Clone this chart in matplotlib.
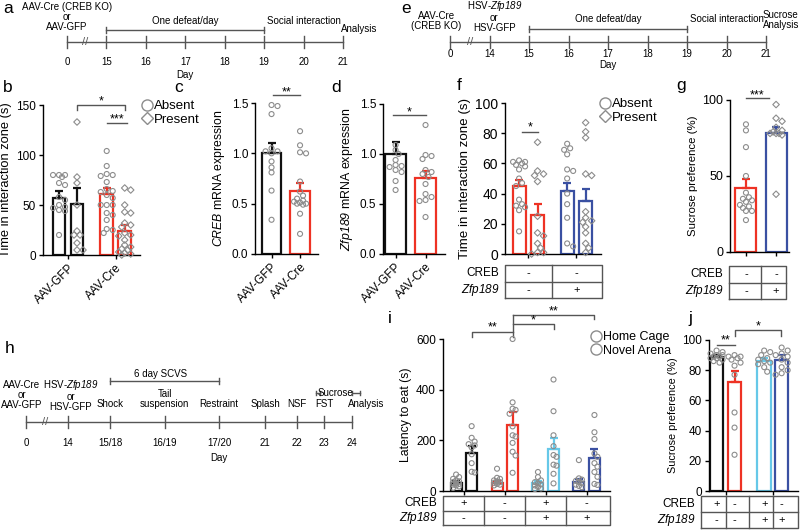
import numpy as np
import matplotlib
matplotlib.use('Agg')
import matplotlib.pyplot as plt
from matplotlib.lines import Line2D

plt.rcParams['font.family'] = ['Liberation Sans', 'DejaVu Sans']
plt.rcParams['mathtext.fontset'] = 'custom'
plt.rcParams['mathtext.rm'] = 'Liberation Sans'
# \mathbf is used as a full italic (digits included) face
plt.rcParams['mathtext.bf'] = 'Liberation Sans:italic'
plt.rcParams['axes.linewidth'] = 1.0

BLACK = '#111111'
RED = '#ee3224'
BLUE = '#3a50a2'
CYAN = '#66c8e8'
GREY = '#8c8c8c'
LINE = '#555555'
ZFP = '$\\mathbf{Zfp189}$'

# ---------------- data ----------------
a_days = ['0', '15', '16', '17', '18', '19', '20', '21']
e_days = ['0', '14', '15', '16', '17', '18', '19', '20', '21']
h_days = ['0', '14', '15/18', '16/19', '17/20', '21', '22', '23', '24']
h_pos = [0, 1, 2, 3.3, 4.6, 5.7, 6.45, 7.1, 7.75]
h_events = ['Shock', 'Tail\nsuspension', 'Restraint', 'Splash', 'NSF', 'FST']

groups = ['AAV-GFP', 'AAV-Cre']

# b: time in interaction zone, absent / present
b_means = [57, 51, 61, 24]
b_sems = [7, 16, 6, 6]
b_gfp_abs = [80, 80, 80, 78, 72, 70, 58, 55, 50, 48, 47, 45, 44, 20]
b_gfp_pres = [133, 78, 72, 50, 24, 20, 20, 12, 5, 5]
b_cre_abs = [104, 89, 81, 80, 79, 73, 66, 64, 63, 60, 57, 50, 50, 50, 42, 40, 35, 26, 25, 22]
b_cre_pres = [67, 65, 50, 43, 42, 32, 30, 28, 22, 20, 19, 15, 10, 8, 6, 5, 3, 2, 1, 0]

# c: CREB mRNA
c_means = [1.0, 0.63]
c_sems = [0.1, 0.08]
c_gfp = [1.48, 1.47, 1.39, 1.05, 1.02, 1.02, 1.0, 0.92, 0.86, 0.81, 0.63, 0.34]
c_cre = [1.22, 1.08, 1.01, 1.0, 0.72, 0.62, 0.58, 0.55, 0.53, 0.52, 0.51, 0.50, 0.50, 0.49, 0.40, 0.20]

# d: Zfp189 mRNA
d_means = [1.0, 0.76]
d_sems = [0.12, 0.07]
d_gfp = [1.09, 1.04, 1.0, 0.94, 0.89, 0.88, 0.87, 0.84, 0.82, 0.73, 0.64]
d_cre = [1.29, 0.99, 0.98, 0.95, 0.84, 0.82, 0.80, 0.77, 0.70, 0.60, 0.57, 0.54, 0.53, 0.37]

# f: time in interaction zone (HSV-GFP / HSV-Zfp189)
f_means = [45, 26, 42, 35]
f_sems = [4, 7, 5, 8]
f_gfp_abs = [62, 61, 61, 60, 59, 58, 56, 50, 47, 45, 36, 33, 32, 31, 29, 15]
f_gfp_pres = [74, 55, 53, 52, 48, 25, 14, 12, 7, 4, 1, 1, 0]
f_zfp_abs = [73, 70, 69, 66, 56, 55, 50, 40, 33, 24, 7, 5]
f_zfp_pres = [87, 81, 77, 53, 52, 28, 24, 22, 21, 18, 14, 7, 4, 1]
f_creb = ['-', '-']
f_zfp = ['-', '+']

# g: sucrose preference
g_means = [42, 78]
g_sems = [6, 4]
g_gfp = [84, 80, 69, 50, 39, 36, 35, 34, 33, 31, 30, 29, 27, 27, 21]
g_zfp = [97, 88, 86, 82, 80, 79, 78, 78, 78, 77, 38]
g_creb_row = ['-', '-']
g_zfp_row = ['-', '+']

# i: latency to eat, home cage / novel arena
i_home_means = [32, 33, 30, 36]
i_home_sems = [8, 8, 10, 10]
i_novel_means = [150, 262, 167, 132]
i_novel_sems = [27, 50, 42, 33]
i_home_pts = [
    [65, 55, 48, 42, 38, 35, 30, 28, 25, 22, 18, 12],
    [88, 52, 48, 42, 38, 35, 32, 28, 25, 22],
    [75, 55, 42, 35, 30, 26, 22, 16, 10, 8],
    [122, 50, 45, 40, 36, 30, 25, 20, 15],
]
i_novel_pts = [
    [256, 210, 195, 185, 180, 172, 145, 110, 76, 73],
    [600, 350, 325, 320, 305, 255, 220, 215, 190, 155, 140, 72],
    [440, 315, 220, 177, 142, 135, 104, 100, 68, 30],
    [300, 232, 205, 148, 135, 110, 96, 75, 56, 28, 24],
]
ij_creb = ['+', '-', '+', '-']
ij_zfp = ['-', '-', '+', '+']

# j: sucrose preference (SCVS)
j_means = [88.5, 72, 86, 87]
j_sems = [1.5, 7.5, 2, 3]
j_pts = [
    [93, 92, 91, 90, 90, 89, 89, 88, 88, 87, 86, 85],
    [90, 89, 89, 88, 87, 85, 83, 77, 52, 42, 24],
    [93, 92, 90, 88, 87, 86, 85, 84, 82, 79],
    [95, 93, 91, 90, 89, 87, 85, 82, 80, 78, 77],
]

W, H = 800, 530
fig = plt.figure(figsize=(8, 5.3), dpi=100)


def px_axes(x0, y0, x1, y1):
    return fig.add_axes([x0 / W, 1 - y1 / H, (x1 - x0) / W, (y1 - y0) / H])


def canvas(x0, y0, x1, y1, u0, scale):
    ax = px_axes(x0, y0, x1, y1)
    ax.set_xlim((x0 - u0) / scale, (x1 - u0) / scale)
    ax.set_ylim(y1, y0)
    ax.axis('off')
    return ax


def timeline(ax, pos, labels, y, brk, lab_y):
    ax.plot([pos[0], pos[-1]], [y, y], color=LINE, lw=1)
    for p, l in zip(pos, labels):
        ax.plot([p, p], [y - 6, y + 6], color=LINE, lw=1)
        ax.text(p, lab_y, l, ha='center', va='center', fontsize=7)
    ax.text(brk, y, '//', ha='center', va='center', fontsize=8, color=LINE)


def bracket(ax, x0, x1, y, h=3):
    ax.plot([x0, x1], [y, y], color=LINE, lw=1)
    ax.plot([x0, x0], [y - h, y + h], color=LINE, lw=1)
    ax.plot([x1, x1], [y - h, y + h], color=LINE, lw=1)


def swarm_x(ax, x, vals, d=5.0, maxoff=6.0):
    T = ax.transData
    inv = T.inverted()
    step = d * 0.6
    cands = [0.0]
    for k in range(1, int(maxoff // step) + 1):
        cands += [k * step, -k * step]
    placed, out = [], []
    for v in vals:
        px, py = T.transform((x, v))
        best, bestd = px, -1
        for c in cands:
            cx = px + c
            md = min([np.hypot(cx - qx, py - qy) for qx, qy in placed], default=1e9)
            if md >= d:
                best = cx
                break
            if md > bestd:
                best, bestd = cx, md
        placed.append((best, py))
        out.append(inv.transform((best, py))[0])
    return out


def style(ax, xlim, ylim, yticks, fs, ylabel, lfs):
    ax.set_xlim(xlim)
    ax.set_ylim(ylim)
    ax.spines[['top', 'right']].set_visible(False)
    ax.set_yticks(yticks)
    ax.tick_params(length=3, width=1, labelsize=fs, pad=2)
    ax.set_ylabel(ylabel, fontsize=lfs, labelpad=3)


def bars(ax, pos, means, sems, colors, pts, markers, width, maxoff, lw=1.6):
    for x, m, e, c, p, mk in zip(pos, means, sems, colors, pts, markers):
        ax.bar(x, m, width, facecolor='white', edgecolor=c, linewidth=lw, zorder=2)
        ax.errorbar(x, m, yerr=[[0], [e]], fmt='none', ecolor=c, elinewidth=lw,
                    capsize=3, capthick=lw, zorder=3)
        xs = swarm_x(ax, x, p, maxoff=maxoff)
        ax.scatter(xs, p, s=13 if mk == 'o' else 11, marker=mk, facecolors='none',
                   edgecolors=GREY, linewidths=0.8, zorder=4, clip_on=False)


def sig(ax, x0, x1, y, txt, drop0=0, drop1=0, fs=9, dy=0):
    ax.plot([x0, x0, x1, x1], [y - drop0, y, y, y - drop1], color=LINE, lw=1, clip_on=False)
    ax.text((x0 + x1) / 2, y + dy, txt, ha='center', va='bottom', fontsize=fs, clip_on=False)


def table(ax_main, box, centers, divs, rows, fs=8):
    x0, y0, x1, y1 = box
    inv = ax_main.transData.inverted()
    xl0 = inv.transform((x0, 0))[0]
    xl1 = inv.transform((x1, 0))[0]
    t = px_axes(x0, y0, x1, y1)
    t.set_xlim(xl0, xl1)
    t.set_ylim(0, 2)
    t.axis('off')
    kw = dict(color=LINE, lw=1, clip_on=False)
    t.plot([xl0, xl1, xl1, xl0, xl0], [0, 0, 2, 2, 0], **kw)
    t.plot([xl0, xl1], [1, 1], **kw)
    for dv in divs:
        t.plot([dv, dv], [0, 2], **kw)
    for r, (name, cells) in enumerate(rows):
        yc = 1.5 - r
        for xc, s in zip(centers, cells):
            t.text(xc, yc, s, ha='center', va='center', fontsize=fs)
        t.annotate(name, xy=(0, yc), xycoords=('axes fraction', 'data'), xytext=(-4, 0),
                   textcoords='offset points', ha='right', va='center', fontsize=fs + 0.5)
    return t


def xgroups(ax, ticks, labels=None, fs=8.5):
    ax.set_xticks(ticks)
    if labels is None:
        ax.set_xticklabels([])
    else:
        ax.set_xticklabels(labels, rotation=45, ha='right', rotation_mode='anchor', fontsize=fs)


def marker_legend(ax, labels, markers, sizes, x, y, fs):
    handles = [Line2D([], [], ls='none', marker=m, ms=s, mfc='none', mec=GREY, mew=1.0)
               for m, s in zip(markers, sizes)]
    ax.legend(handles=handles, labels=labels, loc='upper left', bbox_to_anchor=(x / W, 1 - y / H),
              bbox_transform=fig.transFigure, frameon=False, fontsize=fs, handletextpad=0.05,
              handlelength=1.0, borderpad=0, labelspacing=0.12, borderaxespad=0)


# ---------------- a: timeline ----------------
ta = canvas(0, 0, 400, 90, 67, 39.43)
pa = list(range(len(a_days)))
timeline(ta, pa, a_days, 42, 0.46, 62)
ta.text(pa[3], 75, 'Day', ha='center', va='center', fontsize=7)
ta.text(pa[0], 17, 'AAV-Cre (CREB KO)\nor\nAAV-GFP', ha='center', va='center', fontsize=7, linespacing=1.05)
bracket(ta, pa[1], pa[5], 30)
ta.text(pa[3], 21, 'One defeat/day', ha='center', va='center', fontsize=7)
ta.text(pa[6], 21, 'Social interaction', ha='center', va='center', fontsize=7)
ta.text(pa[7] - 0.05, 29, 'Analysis', ha='left', va='center', fontsize=7)

# ---------------- e: timeline ----------------
te = canvas(400, 0, 800, 90, 450, 39.5)
pe = list(range(len(e_days)))
timeline(te, pe, e_days, 42, 0.5, 54)
te.text(pe[4], 65, 'Day', ha='center', va='center', fontsize=7)
te.text(pe[0] - 0.35, 21, 'AAV-Cre\n(CREB KO)', ha='center', va='center', fontsize=7, linespacing=1.05)
te.text(pe[1] + 0.12, 16, 'HSV-' + ZFP + '\nor\nHSV-GFP', ha='center', va='center', fontsize=7,
        linespacing=1.05)
bracket(te, pe[2], pe[6], 29)
te.text(pe[4], 19, 'One defeat/day', ha='center', va='center', fontsize=7)
te.text(pe[7], 19, 'Social interaction', ha='center', va='center', fontsize=7)
te.text(pe[8] - 0.08, 20, 'Sucrose\nAnalysis', ha='left', va='center', fontsize=7, linespacing=1.05)

# ---------------- h: timeline ----------------
th = canvas(0, 340, 400, 470, 26, 42)
timeline(th, h_pos, h_days, 422, 0.45, 443)
th.text(h_pos[4], 458, 'Day', ha='center', va='center', fontsize=7)
th.text(h_pos[0] - 0.1, 395, 'AAV-Cre\nor\nAAV-GFP', ha='center', va='center', fontsize=7, linespacing=1.05)
th.text(h_pos[1] + 0.07, 395, 'HSV-' + ZFP + '\nor\nHSV-GFP', ha='center', va='center', fontsize=7,
        linespacing=1.05)
for p, ev in zip(h_pos[2:8], h_events):
    th.text(p, 399 if '\n' in ev else 404, ev, ha='center', va='center', fontsize=7, linespacing=1.05)
th.text(h_pos[8] - 0.08, 404, 'Analysis', ha='left', va='center', fontsize=7)
bracket(th, h_pos[2], h_pos[4], 381)
th.text((h_pos[2] + h_pos[4]) / 2 - 0.1, 374, '6 day SCVS', ha='center', va='center', fontsize=7)
th.text(7.36, 393, 'Sucrose', ha='center', va='center', fontsize=7)
bracket(th, 6.9, 7.0, 393, 2)
bracket(th, 7.75, 7.95, 393, 2)

# ---------------- b ----------------
axb = px_axes(43, 105, 140, 255)
b_pos = [0, 1, 2.65, 3.65]
style(axb, (-0.89, 4.5), (0, 150), [0, 50, 100, 150], 8.5, 'Time in interaction zone (s)', 9.3)
bars(axb, b_pos, b_means, b_sems, [BLACK, BLACK, RED, RED],
     [b_gfp_abs, b_gfp_pres, b_cre_abs, b_cre_pres], ['o', 'D', 'o', 'D'], 0.7, 6.5)
xgroups(axb, [0.5, 3.15], groups)
sig(axb, 1, 3.65, 150, '*', 5, 5, dy=-2)
sig(axb, 2.65, 3.75, 132, '***', dy=-2)
marker_legend(axb, ['Absent', 'Present'], ['o', 'D'], [8, 6.5], 140, 100, 9.5)

# ---------------- c ----------------
axc = px_axes(255, 103, 318, 254)
style(axc, (-0.58, 1.63), (0, 1.5), [0, 0.5, 1.0, 1.5], 8.5, '$\\mathbf{CREB}$ mRNA expression', 8.8)
axc.set_yticklabels(['0.0', '0.5', '1.0', '1.5'])
bars(axc, [0, 1], c_means, c_sems, [BLACK, RED], [c_gfp, c_cre], ['o', 'o'], 0.68, 8)
xgroups(axc, [0, 1], groups)
sig(axc, 0.05, 1, 1.58, '**', dy=-0.03)

# ---------------- d ----------------
axd = px_axes(383, 104, 445, 254)
style(axd, (-0.42, 1.65), (0, 1.5), [0, 0.5, 1.0, 1.5], 8.5, ZFP + ' mRNA expression', 8.9)
axd.set_yticklabels(['0.0', '0.5', '1.0', '1.5'])
bars(axd, [0, 1], d_means, d_sems, [BLACK, RED], [d_gfp, d_cre], ['o', 'o'], 0.68, 8)
xgroups(axd, [0, 1], groups)
sig(axd, -0.1, 1, 1.39, '*', dy=-0.03)

# ---------------- f ----------------
axf = px_axes(505, 103, 601, 254)
f_pos = [0, 1, 2.6, 3.6]
style(axf, (-0.76, 4.43), (0, 100), [0, 20, 40, 60, 80, 100], 10, 'Time in interaction zone (s)', 9.6)
bars(axf, f_pos, f_means, f_sems, [RED, RED, BLUE, BLUE],
     [f_gfp_abs, f_gfp_pres, f_zfp_abs, f_zfp_pres], ['o', 'D', 'o', 'D'], 0.7, 6.5)
xgroups(axf, [0.5, 3.1])
sig(axf, 0.16, 1, 81, '*', dy=-1)
marker_legend(axf, ['Absent', 'Present'], ['o', 'D'], [8, 6.5], 598, 98, 9.5)
table(axf, (505, 265, 602, 298), [0.5, 3.1], [1.8], [('CREB', f_creb), (ZFP, f_zfp)])

# ---------------- g ----------------
axg = px_axes(730, 100, 789, 252)
style(axg, (-0.53, 1.43), (0, 100), [0, 50, 100], 9, 'Sucrose preference (%)', 8.2)
bars(axg, [0, 1], g_means, g_sems, [RED, BLUE], [g_gfp, g_zfp], ['o', 'D'], 0.7, 8)
xgroups(axg, [0, 1])
sig(axg, 0, 0.75, 101, '***', dy=-2)
table(axg, (729, 266, 786, 299), [0, 1], [0.5], [('CREB', g_creb_row), (ZFP, g_zfp_row)])

# ---------------- i ----------------
axi = px_axes(443, 339, 610, 491)
style(axi, (-0.51, 3.57), (0, 600), [0, 200, 400, 600], 8.5, 'Latency to eat (s)', 8.8)
cols = [BLACK, RED, CYAN, BLUE]
gpos = np.arange(4)
bars(axi, gpos - 0.19, i_home_means, i_home_sems, cols, i_home_pts, ['o'] * 4, 0.27, 5)
bars(axi, gpos + 0.19, i_novel_means, i_novel_sems, cols, i_novel_pts, ['o'] * 4, 0.27, 5)
xgroups(axi, gpos)
sig(axi, 0.19, 1.19, 628, '**', 20, 0, dy=-8)
sig(axi, 1.19, 2.19, 659, '*', 0, 20, dy=-8)
sig(axi, 1.19, 3.19, 695, '**', 0, 15, dy=-8)
axi.plot([1.19, 1.19], [608, 695], color=LINE, lw=1, clip_on=False)
marker_legend(axi, ['Home Cage', 'Novel Arena'], ['o', 'o'], [8, 8], 590, 331, 9)
table(axi, (443, 496, 610, 525), gpos, [0.5, 1.5, 2.5], [('CREB', ij_creb), (ZFP, ij_zfp)])

# ---------------- j ----------------
axj = px_axes(709, 340, 798, 491)
j_pos = [0, 1, 2.65, 3.62]
style(axj, (-0.42, 4.53), (0, 100), [0, 20, 40, 60, 80, 100], 8.5, 'Sucrose preference (%)', 7.8)
bars(axj, j_pos, j_means, j_sems, cols, j_pts, ['o'] * 4, 0.75, 6)
xgroups(axj, [0.5, 3.13])
sig(axj, 0, 1, 97, '**', dy=-1.5)
sig(axj, 1, 3.6, 106.6, '*', 4, 4, dy=-1.5)
table(axj, (701, 496, 798, 528), j_pos, [0.5, 1.83, 3.13], [('CREB', ij_creb), (ZFP, ij_zfp)])

# ---------------- panel letters ----------------
for lx, ly, lt in [(3, 1, 'a'), (401, 1, 'e'), (3, 80, 'b'), (174, 80, 'c'), (331, 80, 'd'),
                   (457, 78, 'f'), (676, 78, 'g'), (5, 341, 'h'), (388, 311, 'i'), (688, 311, 'j')]:
    fig.text(lx / W, 1 - ly / H, lt, ha='left', va='top', fontsize=12.5)

fig.savefig('out.png', dpi=100)
